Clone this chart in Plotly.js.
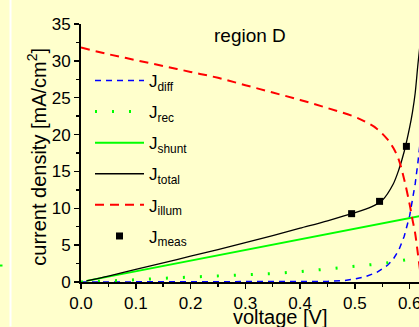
<!DOCTYPE html>
<html>
<head>
<meta charset="utf-8">
<script src="https://cdn.plot.ly/plotly-3.0.1.min.js"></script>
<style>
  html, body { margin: 0; padding: 0; background: #FFFFCC; overflow: hidden; }
  #chart { width: 419px; height: 327px; }
</style>
</head>
<body>
<div id="chart"></div>
<script>
// Current-voltage components of the solar cell, region D
const vIllum = [0.0, 0.05, 0.10, 0.15, 0.20, 0.25, 0.30, 0.35, 0.40, 0.45, 0.50, 0.52, 0.54, 0.56, 0.57, 0.58, 0.59, 0.60, 0.605, 0.61, 0.615, 0.62];
const jIllum = [31.8, 30.9, 30.1, 29.3, 28.5, 27.7, 26.7, 25.7, 24.7, 23.6, 22.4, 21.7, 20.8, 19.3, 18.2, 16.6, 13.9, 10.5, 8.5, 6.6, 3.8, 1.0];

const vDiff = [0.0, 0.10, 0.20, 0.30, 0.40, 0.45, 0.48, 0.50, 0.52, 0.54, 0.56, 0.57, 0.58, 0.59, 0.60, 0.605, 0.61, 0.615, 0.62];
const jDiff = [0.0, 0.0, 0.0, 0.0, 0.02, 0.08, 0.2, 0.4, 0.75, 1.3, 2.3, 3.1, 4.3, 6.2, 9.0, 11.0, 13.3, 16.2, 19.5];

const vRec = [0.0, 0.05, 0.10, 0.15, 0.20, 0.25, 0.30, 0.35, 0.40, 0.45, 0.50, 0.55, 0.60, 0.62];
const jRec = [0.0, 0.1, 0.3, 0.5, 0.65, 0.85, 1.0, 1.15, 1.4, 1.75, 2.15, 2.5, 3.1, 3.4];

const vShunt = [0.01, 0.10, 0.20, 0.30, 0.40, 0.50, 0.60, 0.62];
const jShunt = [0.15, 1.45, 2.9, 4.3, 5.75, 7.2, 8.65, 8.95];

const vTotal = [0.01, 0.05, 0.10, 0.15, 0.20, 0.25, 0.30, 0.35, 0.40, 0.45, 0.50, 0.53, 0.55, 0.57, 0.58, 0.59, 0.60, 0.605, 0.61, 0.615, 0.62];
const jTotal = [0.15, 0.8, 1.7, 2.6, 3.5, 4.4, 5.35, 6.3, 7.3, 8.3, 9.4, 10.2, 11.1, 13.3, 15.2, 17.7, 21.0, 23.0, 25.6, 29.5, 33.0];

const vMeas = [0.494, 0.545, 0.594];
const jMeas = [9.27, 10.94, 18.4];

const names = ['J<sub>diff</sub>', 'J<sub>rec</sub>', 'J<sub>shunt</sub>', 'J<sub>total</sub>', 'J<sub>illum</sub>', 'J<sub>meas</sub>'];

const bg = '#FFFFCC';
const font = 'Arial, "Liberation Sans", sans-serif';

const traces = [
  { x: vDiff, y: jDiff, name: names[0], legendgroup: 'a', mode: 'lines',
    line: { color: '#0000FF', width: 1.5, dash: '6px,5px' } },
  { x: vRec, y: jRec, name: names[1], legendgroup: 'b', mode: 'lines',
    line: { color: '#00FF00', width: 3, dash: '2px,15px' } },
  { x: vShunt, y: jShunt, name: names[2], legendgroup: 'c', mode: 'lines',
    line: { color: '#00FF00', width: 2 } },
  { x: vTotal, y: jTotal, name: names[3], legendgroup: 'd', mode: 'lines',
    line: { color: '#000000', width: 1.3, shape: 'spline', smoothing: 0.8 } },
  { x: vIllum, y: jIllum, name: names[4], legendgroup: 'e', mode: 'lines',
    line: { color: '#FF0000', width: 2, dash: '9px,6px', shape: 'spline' } },
  { x: vMeas, y: jMeas, name: names[5], legendgroup: 'f', mode: 'markers',
    marker: { color: '#000000', symbol: 'square', size: 7 } }
];

// plot area: x 81..419 px, y 24..282.5 px
const L = 81, T = 24, W = 338, H = 258.5;
const px = v => (v - L) / W;
const py = v => (T + H - v) / H;

const layout = {
  width: 419, height: 327,
  margin: { l: L, r: 0, t: T, b: 327 - T - H, pad: 0 },
  paper_bgcolor: bg, plot_bgcolor: bg,
  font: { family: font, color: '#000000', size: 17 },
  showlegend: true,
  legend: {
    x: px(90), y: py(63), xanchor: 'left', yanchor: 'top',
    bgcolor: 'rgba(0,0,0,0)', tracegroupgap: 6,
    font: { family: font, size: 17 }, itemwidth: 49
  },
  xaxis: {
    range: [0, 0.617], showgrid: false, zeroline: false,
    showline: true, linecolor: '#000', linewidth: 2,
    ticks: 'outside', ticklen: 5, tickwidth: 1.5, tickcolor: '#000',
    dtick: 0.1, tick0: 0, tickformat: '.1f',
    minor: { dtick: 0.05, ticklen: 3, tickwidth: 1.5, tickcolor: '#000', ticks: 'outside' },
    tickfont: { family: font, size: 17 },
    ticklabeloverflow: 'allow', automargin: false, fixedrange: true
  },
  yaxis: {
    range: [0, 35], showgrid: false, zeroline: false,
    showline: true, linecolor: '#000', linewidth: 2,
    ticks: 'outside', ticklen: 5, tickwidth: 1.5, tickcolor: '#000',
    dtick: 5, tick0: 0,
    minor: { dtick: 2.5, ticklen: 3, tickwidth: 1.5, tickcolor: '#000', ticks: 'outside' },
    tickfont: { family: font, size: 17 },
    ticklabeloverflow: 'allow', automargin: false, fixedrange: true
  },
  annotations: [
    { xref: 'paper', yref: 'paper', x: px(212), y: py(36), xanchor: 'left', yanchor: 'middle',
      text: 'region D', showarrow: false, font: { family: font, size: 19 } },
    { xref: 'paper', yref: 'paper', x: px(280), y: py(305), xanchor: 'center', yanchor: 'top',
      text: 'voltage [V]', showarrow: false, font: { family: font, size: 20 } },
    { xref: 'paper', yref: 'paper', x: px(37), y: py(157), xanchor: 'center', yanchor: 'middle',
      textangle: -90, text: 'current density [mA/cm<sup>2</sup>]', showarrow: false,
      font: { family: font, size: 20 } }
  ],
  shapes: [
    // divider to the neighbouring panel
    { type: 'line', xref: 'paper', yref: 'paper', x0: px(10.5), x1: px(10.5), y0: py(0), y1: py(327),
      line: { color: '#FFFFFF', width: 2 } },
    { type: 'line', xref: 'paper', yref: 'paper', x0: px(0), x1: px(2.5), y0: py(266), y1: py(266),
      line: { color: '#00FF00', width: 2 } }
  ]
};

Plotly.newPlot('chart', traces, layout, { staticPlot: true, displayModeBar: false });
</script>
</body>
</html>
